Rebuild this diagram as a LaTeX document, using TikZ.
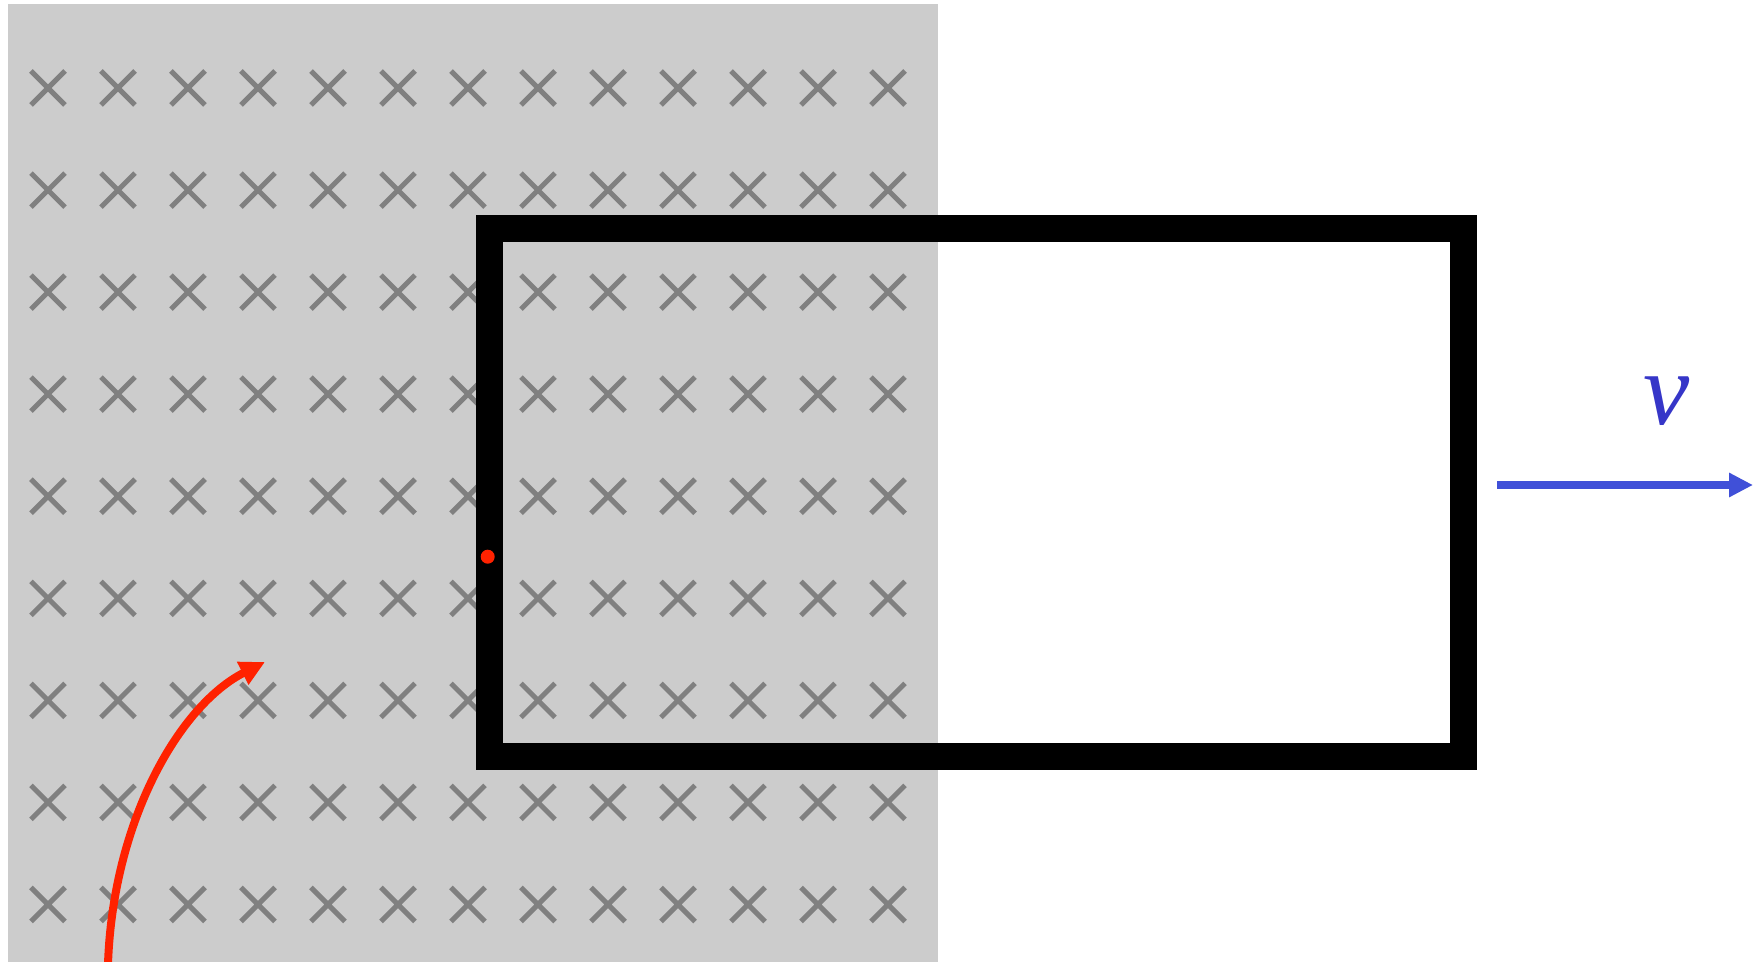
\documentclass[tikz,border=0pt]{standalone}
\usepackage{fontspec}
\setmainfont{Liberation Serif}
\usetikzlibrary{arrows.meta}
\definecolor{fieldgray}{HTML}{CCCCCC}
\definecolor{crossgray}{HTML}{808080}
\definecolor{pathred}{HTML}{FF2200}
\definecolor{velblue}{HTML}{4050D8}
\definecolor{labblue}{HTML}{3636C8}
\tikzset{
  crossmark/.style={draw=crossgray, line width=2.5pt},
  wireloop/.style={draw=black, line width=13.5pt, miter limit=10},
  velarrow/.style={draw=velblue, line width=4pt, -{Triangle[length=12pt,width=11.5pt]}},
  trackarrow/.style={draw=pathred, line width=4pt, -{Triangle[length=12.5pt,width=12pt]}},
}
\begin{document}
\begin{tikzpicture}[x=0.5pt,y=-0.5pt]
\useasboundingbox (0,0) rectangle (1764,962);
\fill[white] (0,0) rectangle (1764,962);
% magnetic field region
\fill[fieldgray] (8,4) rectangle (938,962);
\foreach \i in {0,...,12}{
  \foreach \j in {0,...,8}{
    \pgfmathsetmacro{\cx}{48+70*\i}
    \pgfmathsetmacro{\cy}{88+102.06*\j}
    \draw[crossmark] (\cx-17,\cy-17) -- (\cx+17,\cy+17)
                     (\cx-17,\cy+17) -- (\cx+17,\cy-17);
  }
}
% loop
\coordinate (loopA) at (489,228.7);
\coordinate (loopB) at (1463.5,756);
\draw[wireloop] (loopA) rectangle (loopB);
% red dot
\fill[pathred] (487.7,556.7) circle (3.5pt);
% velocity arrow
\coordinate (vstart) at (1497,485);
\coordinate (vend) at (1753,485);
\draw[velarrow] (vstart) -- (vend);
\node[text=labblue, font=\fontsize{52}{60}\selectfont\itshape, inner sep=0pt] (vlabel) at (1667,401) {v};
% particle track
\coordinate (tstart) at (108,964);
\coordinate (tend) at (265,662);
\draw[trackarrow] (tstart) .. controls (113,820) and (180,705) .. (tend);
\end{tikzpicture}
\end{document}
